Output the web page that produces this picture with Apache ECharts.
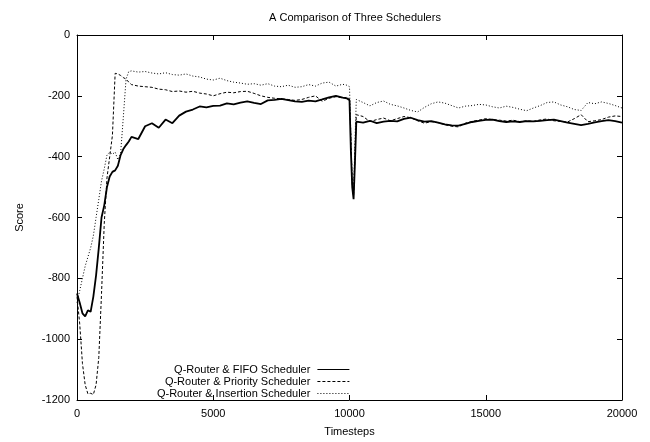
<!DOCTYPE html>
<html>
<head>
<meta charset="utf-8">
<title>A Comparison of Three Schedulers</title>
<script src="https://cdn.jsdelivr.net/npm/echarts@6/dist/echarts.min.js"></script>
<style>
  * { margin: 0; padding: 0 }
  html, body { width: 100%; height: 100%; background: #fff; }
  #main { width: 650px; height: 442px; }
</style>
</head>
<body>
<div id="main"></div>
<script>
// timesteps shared by the three runs
var timesteps = [
  0, 100, 200, 300, 400, 500, 600, 700, 800, 900, 1000, 1100, 1200, 1300, 1400, 1500, 1600, 1700, 1800, 1900, 2000,
  2250, 2500, 2750, 3000, 3250, 3500, 3750, 4000, 4250, 4500, 4750, 5000, 5250, 5500, 5750, 6000,
  6250, 6500, 6750, 7000, 7250, 7500, 7750, 8000, 8250, 8500, 8750, 9000, 9250, 9500, 9750,
  9900, 10000, 10050, 10100, 10150, 10200, 10250,
  10500, 10750, 11000, 11250, 11500, 11750, 12000, 12250, 12500, 12750, 13000, 13250, 13500, 13750,
  14000, 14250, 14500, 14750, 15000, 15250, 15500, 15750, 16000, 16250, 16500, 16750, 17000, 17250,
  17500, 17750, 18000, 18250, 18500, 18750, 19000, 19250, 19500, 19750, 20000
];

var fifoScore = [
  -850, -880, -915, -925, -905, -910, -860, -790, -700, -600, -560, -500, -465, -450, -445, -430, -395, -375, -362, -350, -335,
  -342, -300, -290, -305, -278, -290, -265, -252, -245, -235, -238, -233, -232, -225, -228, -222,
  -218, -223, -227, -215, -213, -210, -214, -218, -220, -216, -218, -212, -205, -200, -206,
  -208, -215, -380, -500, -540, -420, -285,
  -288, -282, -290, -285, -282, -284, -276, -272, -280, -285, -283, -288, -294, -297,
  -298, -292, -286, -282, -279, -278, -283, -286, -284, -286, -283, -284, -282, -280,
  -278, -283, -288, -292, -296, -292, -287, -283, -280, -283, -288
];

var priorityScore = [
  -860, -950, -1080, -1150, -1180, -1178, -1182, -1150, -1060, -850, -620, -470, -400, -330, -126, -128, -133, -140, -145, -155, -163,
  -168, -170, -172, -178, -180, -186, -184, -188, -185, -191, -194, -200, -193, -188, -190, -186,
  -185, -192, -200, -205, -208, -210, -212, -215, -212, -205, -200, -218, -208, -203, -207,
  -205, -210, -330, -490, -530, -400, -262,
  -268, -285, -278, -273, -282, -275, -268, -272, -282, -290, -285, -288, -295, -300,
  -302, -290, -284, -280, -275, -278, -280, -283, -280, -285, -282, -284, -279, -276,
  -282, -284, -286, -275, -262, -285, -282, -278, -270, -266, -268
];

var insertionScore = [
  -880, -840, -800, -760, -730, -700, -660, -600, -540, -480, -440, -395, -385, -392, -385, -410, -390, -270, -145, -120, -118,
  -122, -120, -125, -128, -124, -130, -132, -128, -135, -138, -145, -148, -142, -150, -155, -158,
  -162, -160, -165, -160, -168, -170, -165, -172, -170, -163, -168, -158, -155, -168, -162,
  -165, -170, -330, -480, -520, -350, -212,
  -222, -233, -222, -217, -228, -233, -240, -248, -253, -238, -226, -220, -224, -232,
  -240, -234, -232, -228, -230, -236, -240, -234, -238, -244, -249, -240, -232, -222,
  -220, -230, -236, -245, -248, -222, -226, -220, -225, -232, -240
];

var seriesNames = [
  'Q-Router & FIFO Scheduler',
  'Q-Router & Priority Scheduler',
  'Q-Router & Insertion Scheduler'
];

function pairs(ys) {
  return timesteps.map(function(t, i) { return [t, ys[i]]; });
}

var font = 'Liberation Sans, Arial, Helvetica, sans-serif';
var chart = echarts.init(document.getElementById('main'));

function plain(v) { return String(v); }

function xAxisCfg(pos, showLabel) {
  return {
    type: 'value', position: pos, min: 0, max: 20000, interval: 5000,
    splitLine: { show: false },
    axisLine: { show: true, onZero: false, lineStyle: { color: '#000', width: 1 } },
    axisTick: { show: true, inside: true, length: 5, lineStyle: { color: '#000' } },
    axisLabel: { show: showLabel, color: '#000', fontSize: 11, fontFamily: font, margin: 8, formatter: plain }
  };
}
function yAxisCfg(pos, showLabel) {
  return {
    type: 'value', position: pos, min: -1200, max: 0, interval: 200,
    splitLine: { show: false },
    axisLine: { show: true, onZero: false, lineStyle: { color: '#000', width: 1 } },
    axisTick: { show: true, inside: true, length: 5, lineStyle: { color: '#000' } },
    axisLabel: { show: showLabel, color: '#000', fontSize: 11, fontFamily: font, margin: 7, formatter: plain }
  };
}

var xMain = xAxisCfg('bottom', true);
xMain.name = 'Timesteps';
xMain.nameLocation = 'middle';
xMain.nameGap = 26;
xMain.nameTextStyle = { color: '#000', fontSize: 11, fontFamily: font };
var yMain = yAxisCfg('left', true);
yMain.name = 'Score';
yMain.nameLocation = 'middle';
yMain.nameGap = 52;
yMain.nameTextStyle = { color: '#000', fontSize: 11, fontFamily: font };

function legendCfg(name, top) {
  return {
    data: [name], right: 300, top: top, orient: 'vertical', align: 'right',
    itemWidth: 32, itemHeight: 10, itemGap: 0, padding: 0,
    itemStyle: { color: 'rgba(0,0,0,0)', borderColor: 'rgba(0,0,0,0)', borderWidth: 0, opacity: 0 },
    lineStyle: { width: 1.2 },
    textStyle: { color: '#000', fontSize: 11, fontFamily: font, padding: [0, 2, 0, 0] }
  };
}

chart.setOption({
  animation: false,
  backgroundColor: '#fff',
  title: {
    text: 'A Comparison of Three Schedulers',
    left: 350, top: 7, textAlign: 'center',
    textStyle: { color: '#000', fontSize: 11, fontWeight: 'normal', fontFamily: font }
  },
  grid: { left: 77, right: 28, top: 35, bottom: 37 },
  legend: [
    legendCfg(seriesNames[0], 364),
    legendCfg(seriesNames[1], 376),
    legendCfg(seriesNames[2], 388)
  ],
  xAxis: [xMain, xAxisCfg('top', false)],
  yAxis: [yMain, yAxisCfg('right', false)],
  series: [
    {
      name: seriesNames[0], type: 'line', symbol: 'none', data: pairs(fifoScore),
      lineStyle: { color: '#000', width: 1.8, type: 'solid' }, itemStyle: { color: '#000' }
    },
    {
      name: seriesNames[1], type: 'line', symbol: 'none', data: pairs(priorityScore),
      lineStyle: { color: '#000', width: 1, type: [3, 2] }, itemStyle: { color: '#000' }
    },
    {
      name: seriesNames[2], type: 'line', symbol: 'none', data: pairs(insertionScore),
      lineStyle: { color: '#000', width: 1, type: [1, 2] }, itemStyle: { color: '#000' }
    }
  ]
});
</script>
</body>
</html>
